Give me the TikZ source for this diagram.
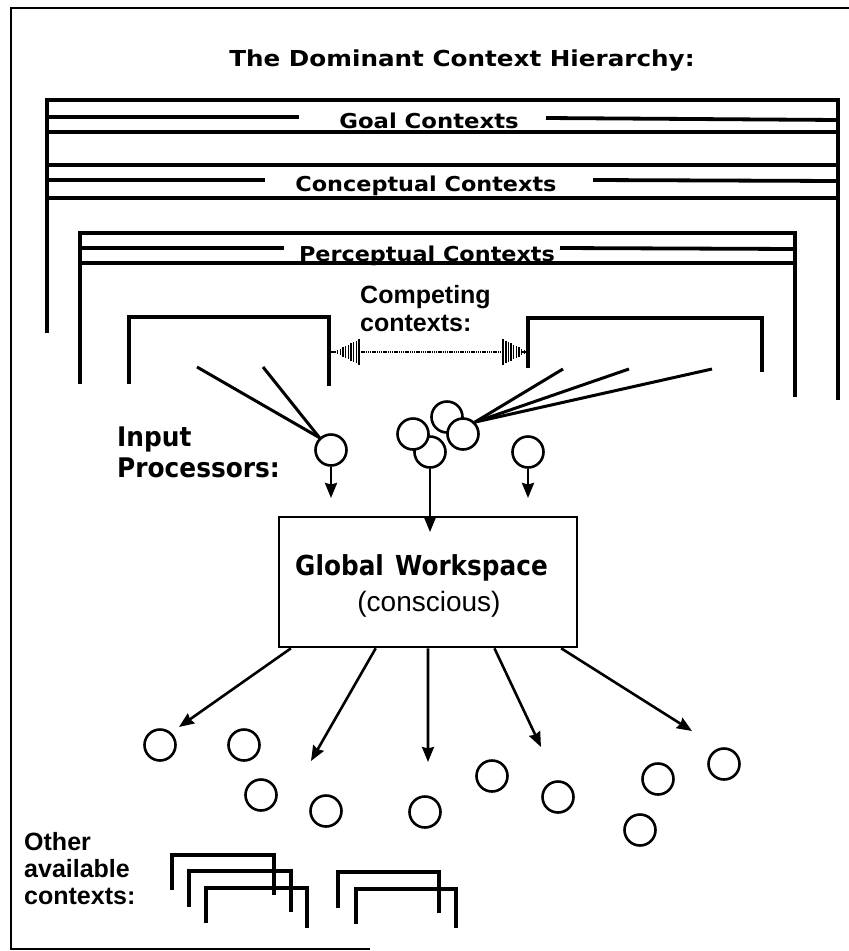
\documentclass[tikz,border=0pt]{standalone}
\usepackage{fontspec}
\setmainfont{Liberation Sans}
\newfontfamily\blockfont{DejaVu Sans}
\usetikzlibrary{arrows.meta,calc}
% block lettering: horizontal scale, size, text
\newcommand\bk[3]{\scalebox{#1}[1]{\fontsize{#2}{#2}\selectfont\blockfont\bfseries #3}}
\begin{document}
\begin{tikzpicture}[x=1pt,y=-1pt,
  frameline/.style={line width=2.4pt},
  bar/.style={line width=3.8pt},
  ctx/.style={line width=3.8pt},
  ring/.style={circle,draw,fill=white,line width=2.6pt,minimum size=31pt,inner sep=0pt},
  feed/.style={line width=3pt},
  arr/.style={line width=2.6pt,-{Stealth[length=15pt,width=12pt,inset=1.5pt]}},
  hatch/.style={line width=1.4pt},
  lbl/.style={inner sep=0pt,anchor=base},
  lblw/.style={inner sep=0pt,anchor=base west},
  hv/.style={font=\bfseries\fontsize{25}{25}\selectfont}]
\useasboundingbox (0,0) rectangle (849,951);

% outer frame
\draw[frameline] (849,8) -- (11,8) -- (11,949) -- (370,949);

% heading
\node[lbl] (title) at (462,66) {\bk{1.12}{22}{The Dominant Context Hierarchy:}};

% goal contexts band
\draw[bar] (47,333) -- (47,100) -- (838,100) -- (838,400);
\draw[bar] (47,117) -- (299,117);
\draw[bar] (546,118) -- (838,120);
\draw[bar] (47,132) -- (838,132);
\node[lbl] (goal) at (429,128) {\bk{1.11}{20.5}{Goal Contexts}};

% conceptual contexts band
\draw[bar] (47,165) -- (838,165);
\draw[bar] (47,180) -- (265,180);
\draw[bar] (593,180) -- (838,181);
\draw[bar] (47,198) -- (838,198);
\node[lbl] (concept) at (426,191) {\bk{1.09}{20.5}{Conceptual Contexts}};

% perceptual contexts band
\draw[bar] (80,384) -- (80,233) -- (795,233) -- (795,397);
\draw[bar] (80,248) -- (284,248);
\draw[bar] (560,248) -- (795,249);
\draw[bar] (80,263) -- (795,263);
\node[lbl] (percept) at (427,261) {\bk{1.09}{20.5}{Perceptual Contexts}};

% competing contexts
\draw[ctx] (129,384) -- (129,317) -- (329,317) -- (329,386);
\draw[ctx] (528,368) -- (528,318) -- (762,318) -- (762,372);
\coordinate (lb) at (329,352);
\coordinate (rb) at (528,352);
\node[lblw,hv] (comp1) at (360,303) {Competing};
\node[lblw,hv] (comp2) at (360,331) {contexts:};

% two-way rivalry arrow with hatched heads
\draw[line width=2.8pt,dash pattern=on 1.3pt off 0.9pt] ($(lb)+(30,0)$) -- ($(rb)+(-26,0)$);
\draw[line width=1.6pt] (lb) -- ++(7,0);
\draw[line width=1.6pt] (rb) -- ++(-7,0);
\foreach \i in {0,...,9}{
  \draw[hatch] ($(lb)+({6+\i*2.65},{-12*\i/9-0.6})$) -- ++(0,{24*\i/9+1.2});
  \draw[hatch] ($(rb)+({-1-\i*2.65},{-12*\i/9-0.6})$) -- ++(0,{24*\i/9+1.2});
}

% input processors
\node[lblw] (inp1) at (117,446) {\bk{0.92}{27}{Input}};
\node[lblw] (inp2) at (117,477) {\bk{0.92}{27}{Processors:}};

\node[ring] (ipL) at (331,450) {};
\node[ring] (ipR) at (528,452) {};
\node[ring] (cT) at (447,417) {};
\node[ring] (cB) at (430,452) {};
\node[ring] (cL) at (413,434) {};
\node[ring] (cR) at (463,434) {};

\coordinate (sL1) at (197,367);
\coordinate (sL2) at (263,367);
\coordinate (sR1) at (563,369);
\coordinate (sR2) at (629,369);
\coordinate (sR3) at (712,369);
\draw[feed] (sL1) -- (ipL.133);
\draw[feed] (sL2) -- (ipL.133);
\draw[feed] (sR1) -- (cR.45);
\draw[feed] (sR2) -- (cR.45);
\draw[feed] (sR3) -- (cR.45);

% global workspace
\node[draw,line width=2.6pt,minimum width=298pt,minimum height=130pt,inner sep=0pt] (gw) at (428,582) {};
\node[lbl] (gwt) at (421.5,575) {\bk{0.9}{27.5}{Global\hspace{0.45em}Workspace}};
\node[lbl,font=\fontsize{28}{28}\selectfont] (gwc) at (429,611) {(conscious)};

\coordinate (tL) at (331,498);
\coordinate (tR) at (528,498);
\coordinate (tM) at (430,532);
\draw[arr] (ipL.south) -- (tL);
\draw[arr] (ipR.south) -- (tR);
\draw[arr] (cB.south) -- (tM);

% broadcast to unconscious processors
\coordinate (a1) at (179,727);
\coordinate (a2) at (311,761);
\coordinate (a3) at (428,762);
\coordinate (a4) at (541,747);
\coordinate (a5) at (692,731);
\draw[arr] ($(gw.south west)!0.044!(gw.south east)$) -- (a1);
\draw[arr] ($(gw.south west)!0.326!(gw.south east)$) -- (a2);
\draw[arr] ($(gw.south west)!0.5!(gw.south east)$) -- (a3);
\draw[arr] ($(gw.south west)!0.721!(gw.south east)$) -- (a4);
\draw[arr] ($(gw.south west)!0.943!(gw.south east)$) -- (a5);

\node[ring] (o1) at (160,745) {};
\node[ring] (o2) at (244,745) {};
\node[ring] (o3) at (261,795) {};
\node[ring] (o4) at (326,811) {};
\node[ring] (o5) at (425,812) {};
\node[ring] (o6) at (492,776) {};
\node[ring] (o7) at (558,797) {};
\node[ring] (o8) at (658,779) {};
\node[ring] (o9) at (724,764) {};
\node[ring] (o10) at (640,830) {};

% other available contexts
\node[lblw,hv] (oth1) at (24,850) {Other};
\node[lblw,hv] (oth2) at (24,877) {available};
\node[lblw,hv] (oth3) at (24,904) {contexts:};

\draw[ctx] (172,890) -- (172,855) -- (274,855) -- (274,895);
\draw[ctx] (189,907) -- (189,871) -- (291,871) -- (291,912);
\draw[ctx] (206,923) -- (206,888) -- (307,888) -- (307,928);
\draw[ctx] (338,908) -- (338,872) -- (439,872) -- (439,913);
\draw[ctx] (356,924) -- (356,889) -- (456,889) -- (456,928);
\end{tikzpicture}
\end{document}
